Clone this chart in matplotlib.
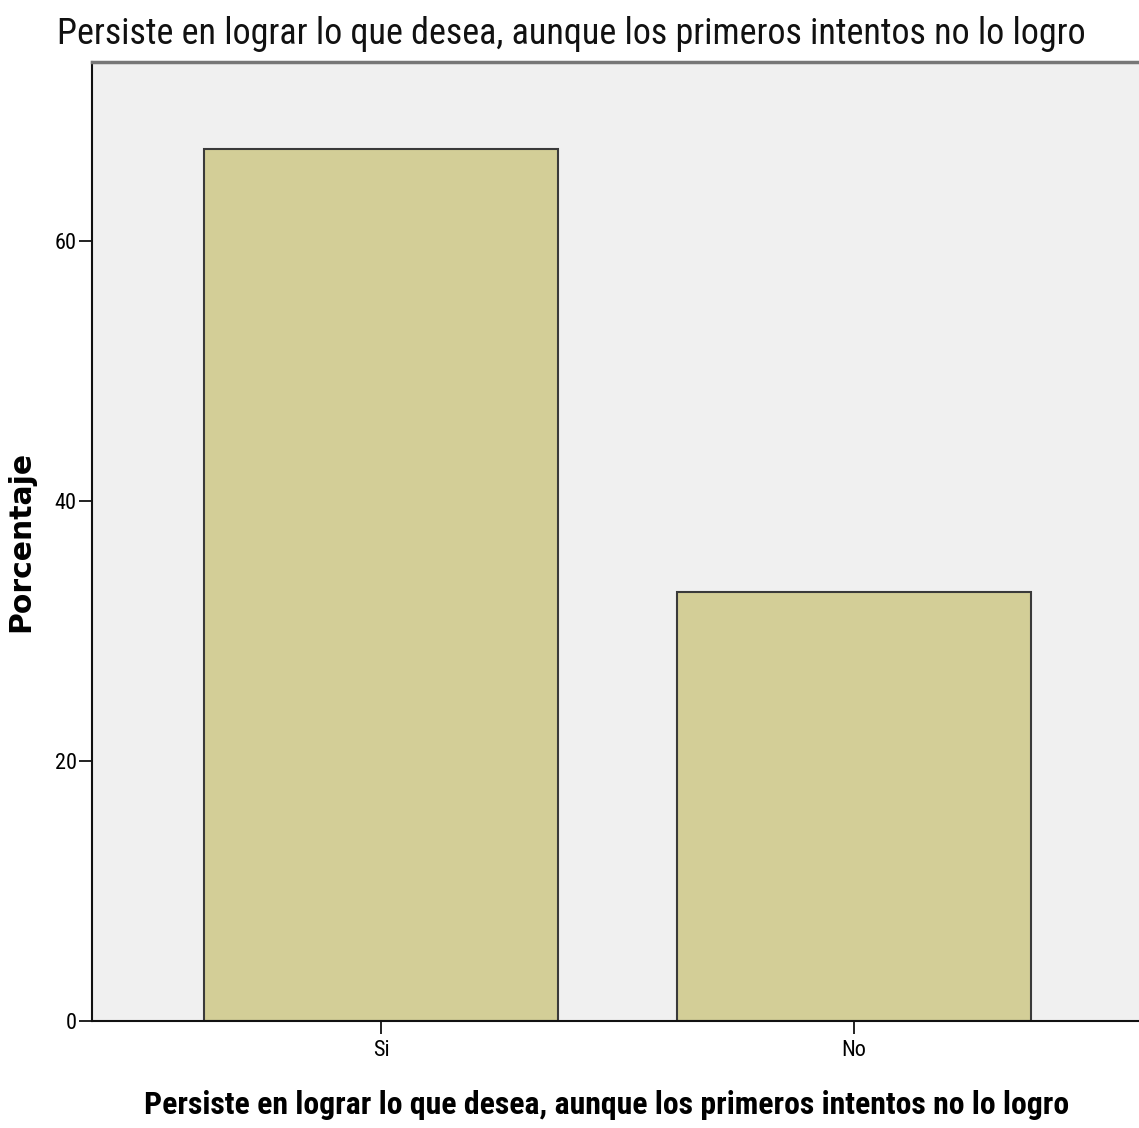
import matplotlib
matplotlib.use('Agg')
import matplotlib.pyplot as plt
from matplotlib import font_manager

# datos
categorias = ['Si', 'No']
porcentajes = [67.1, 33.0]
yticks = [0, 20, 40, 60]
titulo = 'Persiste en lograr lo que desea, aunque los primeros intentos no lo logro'


def primera_fuente(candidatas):
    instaladas = {f.name for f in font_manager.fontManager.ttflist}
    for c in candidatas:
        if c in instaladas:
            return c
    return 'DejaVu Sans'


estrecha = primera_fuente(['Liberation Sans Narrow', 'Arial Narrow', 'Roboto Condensed',
                           'PT Sans Narrow', 'Archivo Narrow', 'Pragati Narrow'])
narrow = [estrecha, 'DejaVu Sans']

fig = plt.figure(figsize=(11.39, 11.28), dpi=100)
ax = fig.add_axes([92 / 1139, 107 / 1128, 1051 / 1139, 959 / 1128])
ax.set_facecolor('#F0F0F0')

x = range(len(categorias))
ax.bar(x, porcentajes, width=0.748, color='#D3CE97', edgecolor='#3A3A3A', linewidth=1.5, zorder=2)

ax.set_xlim(-0.611, 1.611)
ax.set_ylim(0, 73.77)
ax.set_yticks(yticks)
ax.set_xticks(list(x))
ax.set_xticklabels(categorias, family=narrow, fontsize=16)
ax.set_yticklabels([str(v) for v in yticks], family=narrow, fontsize=16)
ax.tick_params(axis='y', length=9.5, width=1.3, color='#111111', pad=1.5)
ax.tick_params(axis='x', length=9.5, width=1.3, color='#111111', pad=4)

for side in ['left', 'bottom']:
    ax.spines[side].set_linewidth(1.5)
    ax.spines[side].set_color('#111111')
ax.spines['top'].set_linewidth(2.5)
ax.spines['top'].set_color('#777777')
ax.spines['right'].set_visible(False)

ax.set_ylabel('Porcentaje', family='DejaVu Sans', fontsize=21.5, fontweight='bold')
ax.yaxis.set_label_coords(-0.054, 0.5)

t1 = fig.text(571 / 1139, 1 - 34 / 1128, titulo, family=narrow, fontsize=22,
              ha='center', va='center', color='#111111')
t2 = fig.text(607 / 1139, 1 - 1105 / 1128, titulo, family=narrow, fontsize=22,
              fontweight='bold', ha='center', va='center')

# ajustar el tamaño de los textos al ancho medido en la referencia
fig.canvas.draw()
r = fig.canvas.get_renderer()
for t, ancho in [(t1, 1028), (t2, 925)]:
    w = t.get_window_extent(r).width
    t.set_fontsize(t.get_fontsize() * ancho / w)

fig.savefig('out.png', dpi=100)
